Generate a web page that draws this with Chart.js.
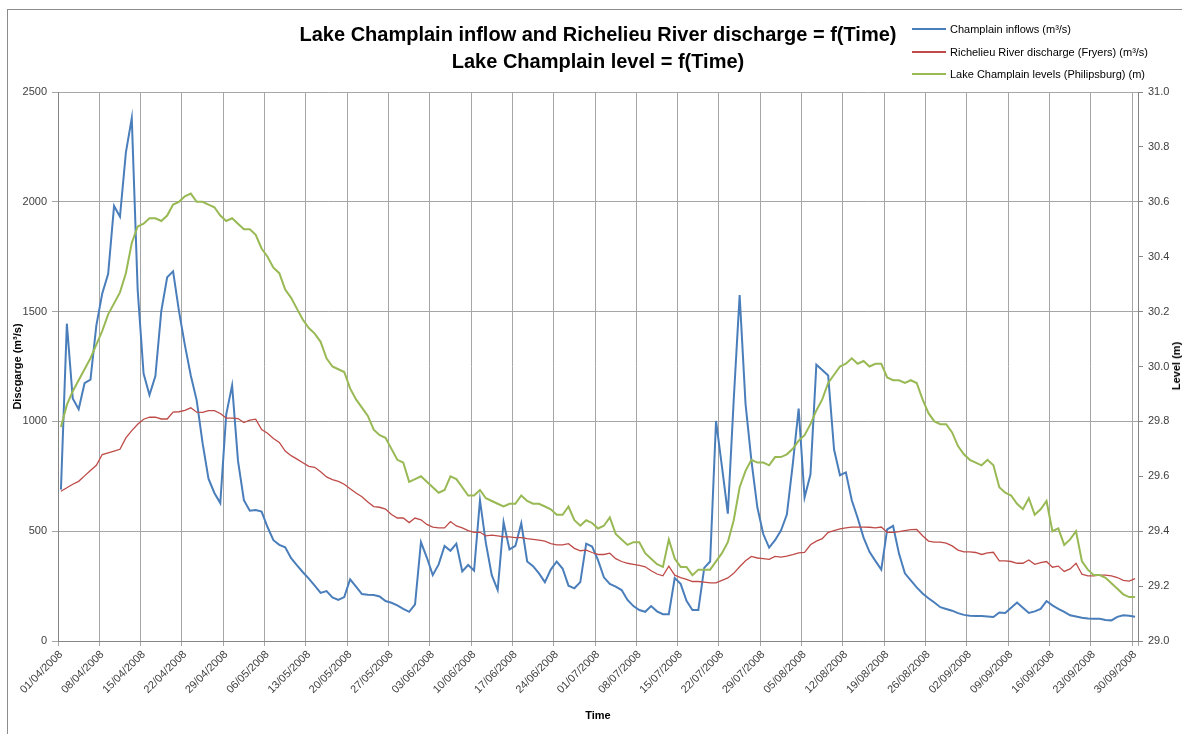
<!DOCTYPE html>
<html>
<head>
<meta charset="utf-8">
<script src="https://cdn.jsdelivr.net/npm/chart.js@4.4.1/dist/chart.umd.min.js"></script>
<style>
  body { margin: 0; background: #fff; }
  #wrap { position: relative; width: 1182px; height: 734px; overflow: hidden; font-family: 'Liberation Sans', Arial, sans-serif; }
  #frame { position: absolute; left: 7px; top: 9px; width: 1300px; height: 800px; border-left: 1px solid #8c8c8c; border-top: 1px solid #8c8c8c; }
  #chart { position: absolute; left: 0; top: 0; }
  #title { position: absolute; left: 0; top: 21px; width: 1196px; text-align: center; font-weight: bold; font-size: 20px; line-height: 27px; color: #000; }
  #legend { position: absolute; left: 912px; top: 18px; font-size: 11px; color: #000; }
  #legend .row { height: 22.5px; display: flex; align-items: center; }
  #legend .swatch { width: 34px; height: 0; margin-right: 4px; }
  #yRight { position: absolute; left: 1176px; top: 366px; transform: translate(-50%, -50%) rotate(-90deg); font-weight: bold; font-size: 11px; white-space: nowrap; color: #000; }
</style>
</head>
<body>
<div id="wrap">
  <div id="frame"></div>
  <canvas id="chart" width="1182" height="734"></canvas>
  <div id="title">Lake Champlain inflow and Richelieu River discharge = f(Time)<br>Lake Champlain level = f(Time)</div>
  <div id="legend"></div>
  <div id="yRight">Level (m)</div>
</div>
<script>
// series names and colours
const seriesNames = ['Champlain inflows (m³/s)', 'Richelieu River discharge (Fryers) (m³/s)', 'Lake Champlain levels (Philipsburg) (m)'];
const seriesColors = ['#4A7EBB', '#BE4B48', '#98B954'];

// daily values, 01/04/2008 .. 30/09/2008
const inflows = [
  690, 1445, 1104, 1055, 1174, 1190, 1437, 1583, 1672, 1981, 1932, 2224, 2381, 1599, 1218, 1120, 1206, 1502, 1656, 1683,
  1502, 1347, 1209, 1096, 901, 739, 674, 628, 1031, 1164, 820, 641, 593, 596, 589, 519, 459, 438, 427, 377,
  344, 313, 284, 252, 219, 227, 198, 187, 200, 281, 248, 214, 211, 209, 203, 182, 174, 162, 146, 133,
  167, 450, 380, 300, 349, 433, 411, 443, 317, 346, 321, 641, 446, 300, 232, 541, 417, 433, 536, 362,
  341, 308, 268, 325, 362, 330, 252, 240, 268, 443, 430, 368, 290, 260, 248, 232, 187, 159, 141, 133,
  159, 135, 122, 122, 287, 260, 183, 141, 141, 333, 362, 1002, 795, 580, 1100, 1575, 1080, 820, 609, 487,
  425, 459, 503, 576, 804, 1058, 654, 758, 1258, 1234, 1209, 872, 755, 768, 641, 560, 471, 406, 365, 325,
  508, 524, 398, 308, 276, 244, 216, 195, 175, 154, 146, 138, 127, 119, 115, 114, 114, 112, 109, 130,
  128, 151, 175, 151, 128, 135, 146, 182, 162, 146, 133, 117, 112, 106, 102, 101, 101, 96, 94, 110,
  117, 115, 110
];
const richelieu = [
  682, 698, 714, 727, 752, 776, 800, 849, 857, 865, 873, 925, 958, 987, 1010, 1019, 1019, 1011, 1011, 1042,
  1044, 1050, 1062, 1042, 1041, 1049, 1049, 1036, 1015, 1015, 1013, 995, 1006, 1010, 963, 946, 922, 904, 865, 844,
  828, 812, 795, 791, 771, 747, 735, 727, 714, 693, 674, 657, 633, 612, 609, 601, 576, 560, 560, 539,
  560, 552, 531, 519, 515, 515, 544, 524, 515, 503, 495, 495, 479, 482, 479, 474, 474, 471, 471, 466,
  463, 459, 455, 443, 438, 438, 443, 422, 411, 414, 403, 394, 394, 400, 375, 362, 354, 349, 344, 338,
  320, 305, 297, 341, 300, 289, 281, 271, 271, 268, 265, 265, 276, 287, 308, 338, 365, 385, 378, 375,
  372, 385, 382, 386, 393, 401, 404, 438, 455, 466, 495, 503, 511, 515, 519, 519, 519, 518, 515, 519,
  495, 495, 498, 503, 507, 508, 479, 455, 450, 450, 446, 433, 414, 406, 406, 403, 394, 401, 404, 365,
  365, 362, 354, 354, 369, 349, 357, 362, 336, 341, 317, 328, 354, 304, 297, 297, 300, 300, 297, 289,
  276, 273, 284
];
const levels = [
  29.78, 29.86, 29.91, 29.95, 29.99, 30.03, 30.08, 30.13, 30.19, 30.23, 30.27, 30.34, 30.45, 30.51, 30.52, 30.54, 30.54, 30.53, 30.55, 30.59,
  30.60, 30.62, 30.63, 30.60, 30.60, 30.59, 30.58, 30.55, 30.53, 30.54, 30.52, 30.50, 30.50, 30.48, 30.43, 30.40, 30.36, 30.34, 30.28, 30.25,
  30.21, 30.17, 30.14, 30.12, 30.09, 30.03, 30.00, 29.99, 29.98, 29.92, 29.88, 29.85, 29.82, 29.77, 29.75, 29.74, 29.70, 29.66, 29.65, 29.58,
  29.59, 29.60, 29.58, 29.56, 29.54, 29.55, 29.60, 29.59, 29.56, 29.53, 29.53, 29.55, 29.52, 29.51, 29.50, 29.49, 29.50, 29.50, 29.53, 29.51,
  29.50, 29.50, 29.49, 29.48, 29.46, 29.46, 29.49, 29.44, 29.42, 29.44, 29.43, 29.41, 29.42, 29.45, 29.39, 29.37, 29.35, 29.36, 29.36, 29.32,
  29.30, 29.28, 29.27, 29.37, 29.30, 29.27, 29.27, 29.24, 29.26, 29.26, 29.26, 29.29, 29.32, 29.36, 29.44, 29.56, 29.62, 29.66, 29.65, 29.65,
  29.64, 29.67, 29.67, 29.68, 29.70, 29.73, 29.75, 29.79, 29.84, 29.88, 29.94, 29.97, 30.00, 30.01, 30.03, 30.01, 30.02, 30.00, 30.01, 30.01,
  29.96, 29.95, 29.95, 29.94, 29.95, 29.94, 29.88, 29.83, 29.80, 29.79, 29.79, 29.76, 29.71, 29.68, 29.66, 29.65, 29.64, 29.66, 29.64, 29.56,
  29.54, 29.53, 29.50, 29.48, 29.52, 29.46, 29.48, 29.51, 29.40, 29.41, 29.35, 29.37, 29.40, 29.29, 29.26, 29.24, 29.24, 29.23, 29.21, 29.19,
  29.17, 29.16, 29.16
];

// date categories
const months = [4, 5, 6, 7, 8, 9];
const monthDays = [30, 31, 30, 31, 31, 30];
const dates = [];
months.forEach((m, k) => {
  for (let d = 1; d <= monthDays[k]; d++) {
    dates.push(String(d).padStart(2, '0') + '/' + String(m).padStart(2, '0') + '/2008');
  }
});

const FONT = "'Liberation Sans', Arial, sans-serif";
const gridColor = '#a6a6a6';
const axisColor = '#868686';
const tickColor = '#404040';

// legend
const legend = document.getElementById('legend');
seriesNames.forEach((name, i) => {
  const row = document.createElement('div');
  row.className = 'row';
  row.innerHTML = `<span class="swatch" style="border-top:2px solid ${seriesColors[i]}"></span><span>${name}</span>`;
  legend.appendChild(row);
});

const ctx = document.getElementById('chart');
new Chart(ctx, {
  type: 'line',
  data: {
    labels: dates,
    datasets: [
      { label: seriesNames[0], data: inflows, yAxisID: 'y', borderColor: seriesColors[0], borderWidth: 2, order: 3 },
      { label: seriesNames[1], data: richelieu, yAxisID: 'y', borderColor: seriesColors[1], borderWidth: 1.3, order: 2 },
      { label: seriesNames[2], data: levels, yAxisID: 'y1', borderColor: seriesColors[2], borderWidth: 2, order: 1 },
    ]
  },
  options: {
    responsive: false,
    animation: false,
    devicePixelRatio: 1,
    layout: { padding: { top: 92, left: 0, right: 0, bottom: 0 } },
    elements: { point: { radius: 0 }, line: { tension: 0 } },
    plugins: { legend: { display: false }, tooltip: { enabled: false } },
    scales: {
      x: {
        type: 'category',
        offset: true,
        grid: {
          offset: true,
          color: (c) => (c.index === undefined || c.index % 7 === 0) ? gridColor : 'rgba(0,0,0,0)',
          tickLength: 5,
        },
        border: { color: axisColor },
        ticks: {
          autoSkip: false,
          minRotation: 45,
          maxRotation: 45,
          padding: 2,
          color: tickColor,
          font: { family: FONT, size: 11 },
          callback: (v, i) => i % 7 === 0 ? dates[i] : '',
        },
        title: { display: true, text: 'Time', color: '#000', font: { family: FONT, size: 11, weight: 'bold' }, padding: { top: 0, bottom: 11 } },
        afterFit: (s) => { s.height = 93; },
      },
      y: {
        position: 'left',
        min: 0,
        max: 2500,
        grid: { color: gridColor, tickLength: 6 },
        border: { color: axisColor },
        ticks: { stepSize: 500, padding: 5, color: tickColor, font: { family: FONT, size: 11 }, callback: (v) => String(v) },
        title: { display: true, text: 'Discgarge (m³/s)', color: '#000', font: { family: FONT, size: 11, weight: 'bold' }, padding: { top: 11, bottom: 0 } },
        afterFit: (s) => { s.width = 58; },
      },
      y1: {
        position: 'right',
        min: 29,
        max: 31,
        grid: { drawOnChartArea: false, color: axisColor, tickLength: 5 },
        border: { color: axisColor },
        ticks: { stepSize: 0.2, padding: 5, color: tickColor, font: { family: FONT, size: 11 }, callback: (v) => v.toFixed(1) },
        afterFit: (s) => { s.width = 44; },
      }
    }
  }
});
</script>
</body>
</html>
